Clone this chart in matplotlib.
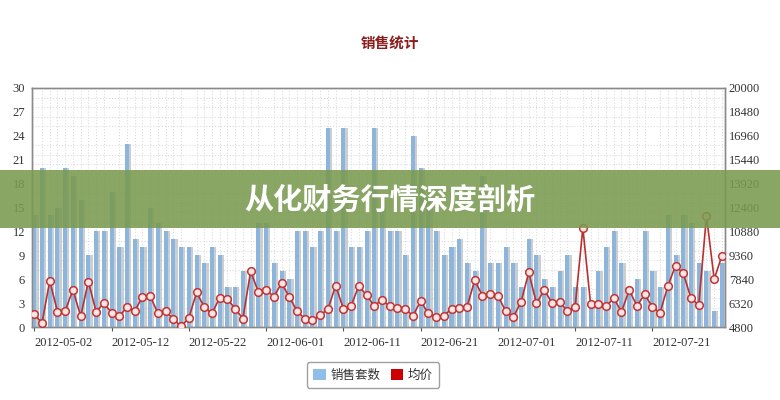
import numpy as np
import pandas as pd
import matplotlib
matplotlib.use("Agg")
import matplotlib.pyplot as plt
import matplotlib.dates as mdates
from matplotlib.patches import Patch, Rectangle

plt.rcParams['font.family'] = ['Noto Sans CJK SC', 'DejaVu Sans']

# daily data, 2012-05-02 .. 2012-07-30
start_date = '2012-05-02'
n_days = 90

# 销售套数 (left axis)
sales = [14, 20, 14, 15, 20, 19, 16, 9, 12, 12,
         17, 10, 23, 11, 10, 15, 13, 12, 11, 10,
         10, 9, 8, 10, 9, 5, 5, 7, 7, 13,
         13, 8, 7, 6, 12, 12, 10, 12, 25, 12,
         25, 10, 10, 12, 25, 16, 12, 12, 9, 24,
         20, 16, 12, 9, 10, 11, 8, 7, 19, 8,
         8, 10, 8, 5, 11, 9, 6, 5, 7, 9,
         5, 5, 3, 7, 10, 12, 8, 5, 6, 12,
         7, 5, 14, 9, 14, 13, 8, 7, 2, 8]

# 均价 (right axis)
price = [5610, 5050, 7740, 5765, 5815, 7180, 5485, 7690, 5765, 6320,
         5710, 5485, 6065, 5815, 6725, 6775, 5660, 5815, 5305, 4850,
         5355, 7005, 6065, 5660, 6675, 6575, 5965, 5330, 8345, 7030,
         7180, 6725, 7585, 6725, 5815, 5330, 5230, 5560, 5915, 7435,
         5965, 6145, 7410, 6825, 6145, 6525, 6115, 6015, 5965, 5510,
         6445, 5660, 5410, 5485, 5965, 6040, 6065, 7765, 6800, 6930,
         6800, 5815, 5435, 6395, 8270, 6295, 7155, 6345, 6395, 5815,
         6065, 11110, 6270, 6270, 6115, 6625, 5765, 7155, 6145, 6875,
         6065, 5710, 7410, 8700, 8220, 6625, 6195, 11870, 7840, 9335]

left_ticks = list(range(0, 31, 3))
right_ticks = [4800, 6320, 7840, 9360, 10880, 12400, 13920, 15440, 16960, 18480, 20000]
date_ticks = pd.date_range('2012-05-02', periods=9, freq='10D')

dates = pd.date_range(start_date, periods=n_days, freq='D')
x = mdates.date2num(dates)

fig = plt.figure(figsize=(7.8, 4), dpi=100)
ax = fig.add_axes([0.041, 0.1825, 0.888, 0.5975])

# faint dotted background grid
ax.set_xticks(x, minor=True)
ax.set_yticks(np.arange(0, 30, 1.2), minor=True)
ax.grid(which='minor', color='#dcdcdc', linestyle=':', linewidth=0.8)
ax.set_axisbelow(True)

# bars with a grey drop shadow
ax.bar(x + 0.3, sales, width=0.5, color='#b9bfc6', alpha=0.75, zorder=2)
ax.bar(x, sales, width=0.52, color='#8db5dc', zorder=3)

ax.set_ylim(0, 30)
ax.set_yticks(left_ticks)
ax.set_xlim(x[0] - 0.3, x[-1] + 0.35)
ax.set_xticks(mdates.date2num(date_ticks))
ax.xaxis.set_major_formatter(mdates.DateFormatter('%Y-%m-%d'))
ax.tick_params(axis='both', which='minor', length=0)

ax2 = ax.twinx()
ax2.plot(x, price, color='#b83030', linewidth=1.2, marker='o', markersize=5.5,
         markerfacecolor='#fbe4e4', markeredgecolor='#c03535', markeredgewidth=1.1, zorder=5)
ax2.set_ylim(4800, 20000)
ax2.set_yticks(right_ticks)

for a in (ax, ax2):
    for s in a.spines.values():
        s.set_color('#8a8a8a')
        s.set_linewidth(1.0)
    for lab in a.get_xticklabels() + a.get_yticklabels():
        lab.set_fontfamily('Liberation Serif')
        lab.set_fontsize(9)
        lab.set_color('#333333')
for lab in ax.get_xticklabels():
    lab.set_horizontalalignment('left')
ax.tick_params(axis='y', length=0, pad=5)
ax2.tick_params(axis='y', length=0, pad=3)
ax.tick_params(axis='x', which='major', length=3, color='#555555', pad=4)

fig.text(0.5, 1 - 43 / 400, '销售统计', ha='center', va='center', fontsize=10.5,
         fontweight='bold', color='#8b1c1c')

handles = [Patch(facecolor='#8fbfe8', edgecolor='none', label='销售套数'),
           Patch(facecolor='#cc0000', edgecolor='none', label='均价')]
leg = fig.legend(handles=handles, loc='center', bbox_to_anchor=(373 / 780, 1 - 375 / 400),
                 ncol=2, fontsize=9, frameon=True, edgecolor='#888888', fancybox=True,
                 handlelength=1.0, handleheight=1.0, handletextpad=0.4, columnspacing=0.8,
                 borderpad=0.5)
for t in leg.get_texts():
    t.set_color('#333333')

# green banner on top
fig.add_artist(Rectangle((0, 0.43), 1, 0.145, transform=fig.transFigure,
                         facecolor='#7a9a50', edgecolor='none', alpha=0.88, zorder=10))
fig.text(0.5, 0.5, '从化财务行情深度剖析', ha='center', va='center', fontsize=21,
         fontweight='bold', color='white', zorder=11)

fig.savefig('out.png', dpi=100)
